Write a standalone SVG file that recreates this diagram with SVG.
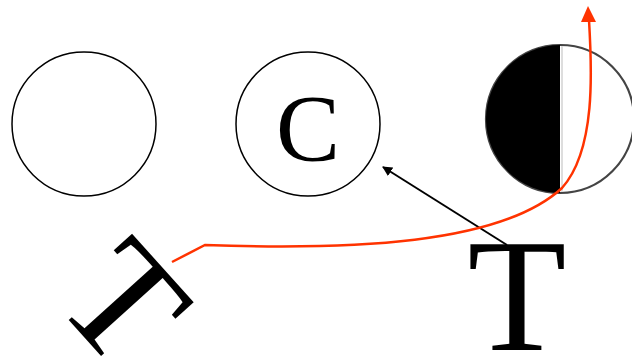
<svg xmlns="http://www.w3.org/2000/svg" width="632" height="357" viewBox="0 0 632 357">
<style>
.node{fill:#fff;stroke:#000;stroke-width:1.5}
.serif{font-family:"Liberation Serif","Times New Roman",serif;fill:#000}
.red{fill:none;stroke:#ff3300;stroke-width:2.5}
.blk{fill:none;stroke:#000;stroke-width:2}
</style>
<defs>
<marker id="ah" markerWidth="10" markerHeight="10" refX="9" refY="5" orient="auto" markerUnits="userSpaceOnUse" viewBox="0 0 10 10">
<path d="M0,0 L10,5 L0,10 z" fill="#000"/>
</marker>
</defs>
<rect width="632" height="357" fill="#fff"/>
<g id="circle1"><circle class="node" cx="84" cy="124" r="72"/></g>
<g id="circleC"><circle class="node" cx="308" cy="124" r="72"/>
<text class="serif" x="308" y="161" font-size="96" text-anchor="middle">C</text></g>
<g id="halfmoon">
<circle cx="560" cy="119" r="74" fill="#fff" stroke="#444" stroke-width="2.2"/>
<path d="M560,45 A74,74 0 0 0 560,193 Z" fill="#000"/>
<line x1="562" y1="46" x2="562" y2="192" stroke="#ddd" stroke-width="2"/>
</g>
<g id="T1"><text class="serif" font-size="160" text-anchor="middle" transform="translate(85,338) rotate(48)">T</text></g>
<g id="T2"><text class="serif" x="517" y="350" font-size="162" text-anchor="middle">T</text></g>
<g id="connectors">
<path class="blk" d="M507,245 L383,167" marker-end="url(#ah)"/>
<path class="red" d="M172,262 L205,245 C350,250 500,245 562,188 C596,150 592,70 589,20"/>
<path d="M588,6 L581,22 L596,22 Z" fill="#ff3300"/>
</g>
</svg>
